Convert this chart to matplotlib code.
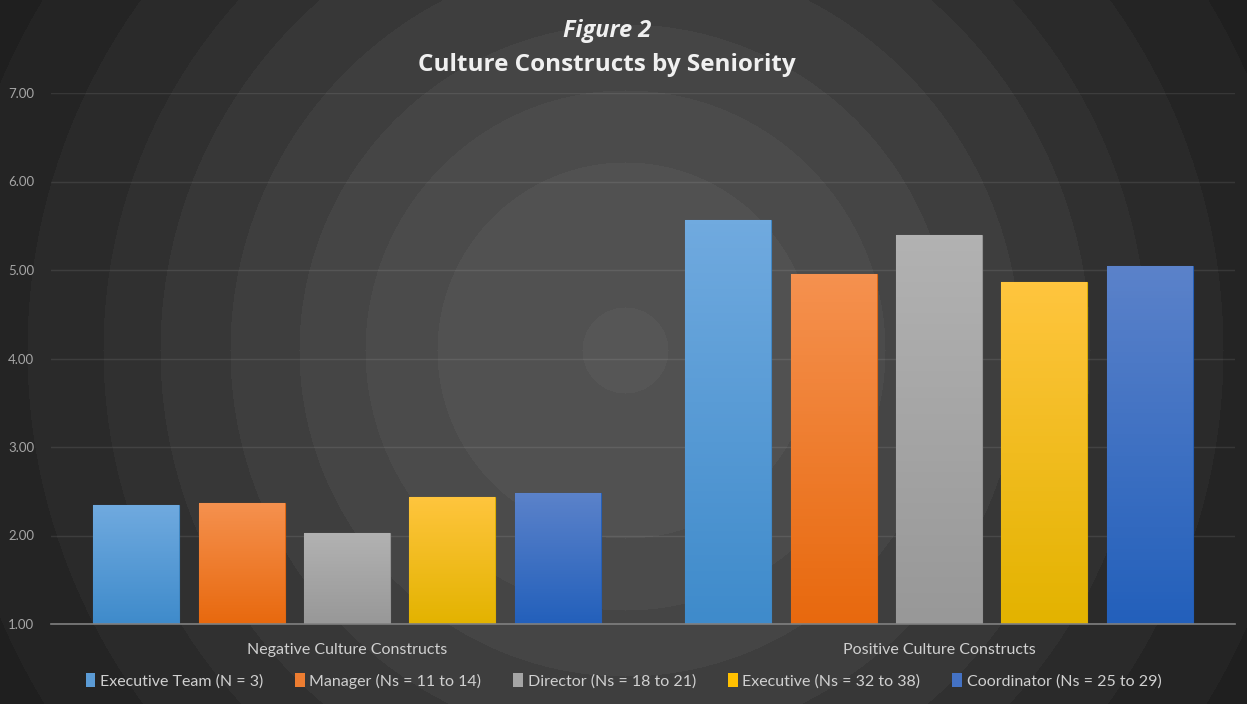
import matplotlib.pyplot as plt
import matplotlib.colors as mcolors
from matplotlib.patches import Patch
import numpy as np

categories = ['Negative Culture Constructs', 'Positive Culture Constructs']
series = ['Executive Team (N = 3)', 'Manager (Ns = 11 to 14)', 'Director (Ns = 18 to 21)',
          'Executive (Ns = 32 to 38)', 'Coordinator (Ns = 25 to 29)']
values = [
    [2.35, 5.56],
    [2.37, 4.95],
    [2.03, 5.39],
    [2.44, 4.86],
    [2.48, 5.04],
]
yticks = [1, 2, 3, 4, 5, 6, 7]

# top / bottom of each bar gradient
tops = ['#70aadf', '#f5914f', '#b2b2b2', '#ffc53e', '#5b82ca']
bottoms = ['#3f8bcb', '#e8690e', '#989898', '#e3b300', '#2360bb']
swatch = ['#5b9bd5', '#ed7d31', '#a5a5a5', '#ffc000', '#4472c4']

W, H = 1247, 704
fig = plt.figure(figsize=(W / 100, H / 100), dpi=100)

# banded radial background
bg = fig.add_axes([0, 0, 1, 1])
yy, xx = np.mgrid[0:H, 0:W]
r = np.hypot(xx - 625, yy - 350)
radii = [43, 188, 260, 326, 395, 465, 522, 598, 680]
shades = [0x56, 0x51, 0x4b, 0x45, 0x3e, 0x37, 0x30, 0x2a, 0x24, 0x1f]
band = np.searchsorted(radii, r)
img = np.array(shades)[band] / 255.0
bg.imshow(np.dstack([img, img, img]), aspect='auto', extent=[0, 1, 0, 1], interpolation='bilinear')
bg.set_axis_off()

ax = fig.add_axes([51 / W, 1 - 624 / H, (1235 - 51) / W, (624 - 93) / H])
ax.patch.set_alpha(0)

n = len(series)
x = np.arange(len(categories))
step = 0.178
width = 0.145
for i in range(n):
    cmap = mcolors.LinearSegmentedColormap.from_list('g%d' % i, [bottoms[i], tops[i]])
    pos = x + (i - (n - 1) / 2) * step
    bars = ax.bar(pos, np.array(values[i]) - 1, width, bottom=1, color=swatch[i],
                  edgecolor=mcolors.to_rgba(bottoms[i], 0.9), linewidth=0.8, zorder=3)
    for b in bars:
        x0, y0 = b.get_x(), b.get_y()
        im = ax.imshow(np.linspace(0, 1, 100).reshape(-1, 1), cmap=cmap, origin='lower',
                       extent=[x0, x0 + b.get_width(), y0, y0 + b.get_height()],
                       aspect='auto', zorder=3)
        im.set_clip_path(b)

ax.set_xlim(-0.5, 1.5)
ax.set_ylim(1, 7)
ax.set_yticks(yticks)
ax.set_yticklabels(['%.2f' % v for v in yticks], color='#a6a6a6', fontsize=9.5, family='Lato')
ax.set_xticks(x)
ax.set_xticklabels(categories, color='#d0d0d0', fontsize=11.5, family='Lato')
ax.tick_params(length=0, pad=12)
ax.tick_params(axis='x', pad=14)
ax.grid(axis='y', color='white', alpha=0.09, linewidth=1, zorder=0)
for s in ['top', 'right', 'left']:
    ax.spines[s].set_visible(False)
ax.spines['bottom'].set_color('#808080')
ax.spines['bottom'].set_linewidth(1.2)
ax.spines['bottom'].set_zorder(4)

tx = 607 / W
fig.text(tx, 1 - 31 / H, 'Figure 2', ha='center', va='center', fontsize=17,
         fontweight='bold', style='italic', color='#f0f0f0', family='Open Sans')
fig.text(tx, 1 - 65 / H, 'Culture Constructs by Seniority', ha='center', va='center',
         fontsize=17.5, fontweight='bold', color='#f0f0f0', family='Open Sans')

handles = [Patch(facecolor=swatch[i], label=series[i]) for i in range(n)]
fig.legend(handles=handles, loc='center', bbox_to_anchor=(0.5, 1 - 681 / H), ncol=n,
           frameon=False, handlelength=0.6, handleheight=0.9,
           handletextpad=0.3, columnspacing=2.0, labelcolor='#d0d0d0',
           prop={'family': 'Lato', 'size': 11.5})

fig.savefig('out.png', dpi=100)
